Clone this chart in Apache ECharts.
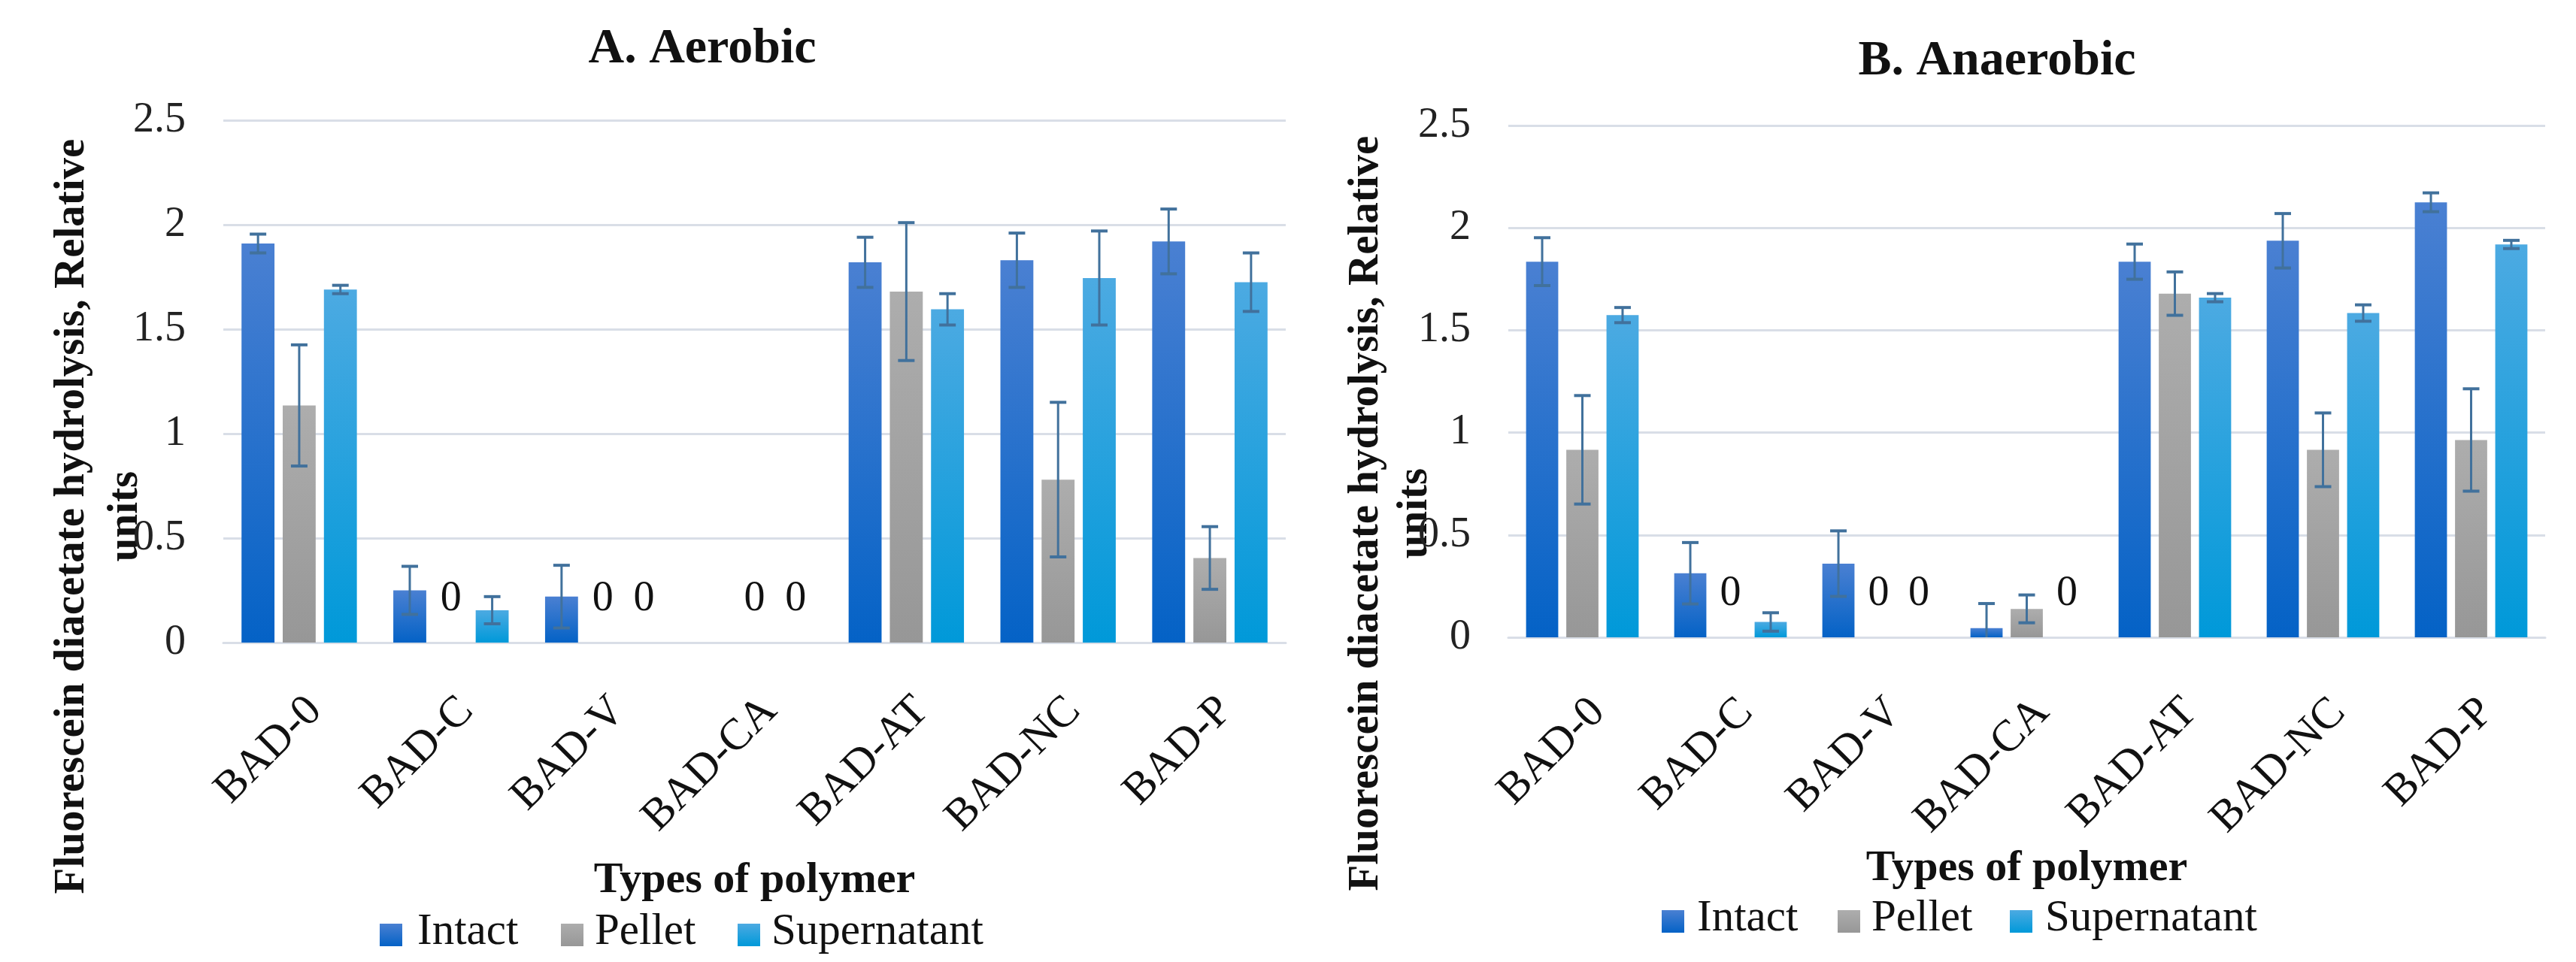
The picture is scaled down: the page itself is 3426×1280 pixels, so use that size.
<!DOCTYPE html>
<html>
<head>
<meta charset="utf-8">
<script src="https://cdn.jsdelivr.net/npm/echarts@6/dist/echarts.min.js"></script>
<style>
html,body{margin:0;padding:0;background:#fff;}
#chart{width:3426px;height:1280px;}
</style>
</head>
<body>
<div id="chart"></div>
<script>
// ---- data ----
const categories = ['BAD-0','BAD-C','BAD-V','BAD-CA','BAD-AT','BAD-NC','BAD-P'];
const seriesNames = ['Intact','Pellet','Supernatant'];
const yTicks = [0, 0.5, 1, 1.5, 2, 2.5];

// A. Aerobic
const aerIntact      = [1.91, 0.25, 0.22, null, 1.82, 1.83, 1.92];
const aerIntactErr   = [0.045, 0.115, 0.15, 0, 0.12, 0.13, 0.155];
const aerPellet      = [1.135, 0, 0, 0, 1.68, 0.78, 0.405];
const aerPelletErr   = [0.29, 0, 0, 0, 0.33, 0.37, 0.15];
const aerSuper       = [1.69, 0.155, 0, 0, 1.595, 1.745, 1.725];
const aerSuperErr    = [0.02, 0.065, 0, 0, 0.075, 0.225, 0.14];

// B. Anaerobic
const anaIntact      = [1.835, 0.313, 0.36, 0.045, 1.835, 1.937, 2.125];
const anaIntactErr   = [0.117, 0.15, 0.16, 0.12, 0.086, 0.133, 0.046];
const anaPellet      = [0.916, 0, 0, 0.139, 1.679, 0.916, 0.964];
const anaPelletErr   = [0.265, 0, 0, 0.068, 0.106, 0.18, 0.25];
const anaSuper       = [1.574, 0.075, 0, 0, 1.659, 1.584, 1.919];
const anaSuperErr    = [0.037, 0.045, 0, 0, 0.02, 0.04, 0.02];

// ---- styling ----
const FONT = "'Liberation Serif', 'DejaVu Serif', serif";
const gridColor = '#d9dee7';
const errColor = '#41719c';
function grad(top, bottom){
  return new echarts.graphic.LinearGradient(0,0,0,1,[{offset:0,color:top},{offset:1,color:bottom}]);
}
const colors = [grad('#4a80d2','#0462c6'), grad('#adadad','#979797'), grad('#4caae2','#0099d9')];

function barSeries(idx, name, vals, axis){
  return {
    type:'bar', name, xAxisIndex:axis, yAxisIndex:axis,
    barCategoryGap:'24%', barGap:'25%',
    itemStyle:{color:colors[idx]},
    data: vals.map(v => ({
      value: v,
      label: {show: v === 0, position:'top', distance:30, formatter:'0',
              fontFamily:FONT, fontSize:56, color:'#111'}
    })),
    z: 2
  };
}
function errSeries(idx, vals, errs, axis){
  return {
    type:'custom', xAxisIndex:axis, yAxisIndex:axis, clip:true, z:5,
    silent:true,
    data: vals.map((v,i) => [i, v == null ? 0 : v, errs[i] || 0]),
    renderItem: function(params, api){
      const cat = api.value(0), v = api.value(1), e = api.value(2);
      if (!e) return null;
      const catW = api.size([1,0])[0];
      const w = catW * 0.76 / 3.5;
      const off = (idx - 1) * w * 1.25;
      const x = api.coord([cat, v])[0] + off;
      const yT = api.coord([cat, v + e])[1];
      const yB = api.coord([cat, v - e])[1];
      const c = 11;
      const st = {stroke: errColor, lineWidth: 3};
      return {type:'group', children:[
        {type:'line', shape:{x1:x,y1:yT,x2:x,y2:yB}, style:st},
        {type:'line', shape:{x1:x-c,y1:yT,x2:x+c,y2:yT}, style:{stroke:errColor,lineWidth:4}},
        {type:'line', shape:{x1:x-c,y1:yB,x2:x+c,y2:yB}, style:{stroke:errColor,lineWidth:4}}
      ]};
    }
  };
}
function xAx(gi, gap, margin){
  return {
    type:'category', gridIndex:gi, data:categories,
    axisLine:{show:true, lineStyle:{color:gridColor, width:3}},
    axisTick:{show:false},
    axisLabel:{rotate:45, align:'right', verticalAlign:'top', margin:margin,
               fontFamily:FONT, fontSize:59, color:'#111'},
    name:'Types of polymer', nameLocation:'middle', nameGap:gap,
    nameTextStyle:{fontFamily:FONT, fontSize:58, fontWeight:'bold', color:'#111'}
  };
}
function yAx(gi){
  return {
    type:'value', gridIndex:gi, min:yTicks[0], max:yTicks[yTicks.length-1], interval:0.5,
    axisLine:{show:false}, axisTick:{show:false},
    splitLine:{lineStyle:{color:gridColor, width:3}},
    axisLabel:{margin:50, fontFamily:FONT, fontSize:56, color:'#222'}
  };
}
function yName(xc1, xc2, yc){
  const common = {fontFamily:FONT, fontSize:57, fontWeight:'bold', fill:'#111', textAlign:'center', textVerticalAlign:'middle'};
  return [
    {type:'text', x:xc1, y:yc, rotation:Math.PI/2, style:Object.assign({text:'Fluorescein diacetate hydrolysis, Relative'}, common)},
    {type:'text', x:xc2, y:yc, rotation:Math.PI/2, style:Object.assign({text:'units'}, common)}
  ];
}
// one legend (icon only) per series; its label is drawn as serif text next to it
function legendIcon(name, left, cy){
  return {
    left, top: cy - 15, itemWidth:30, itemHeight:30, padding:0,
    icon:'rect', data:[name], formatter: function(){ return ''; },
    textStyle:{fontSize:1}
  };
}
function legendText(name, x, cy){
  return {type:'text', x, y:cy, style:{text:name, fontFamily:FONT, fontSize:59, fill:'#111', textAlign:'left', textVerticalAlign:'middle'}};
}
const legLeftIcons  = [505, 746, 981];
const legLeftTexts  = [555, 791, 1026];
const legRightIcons = [2210, 2444, 2673];
const legRightTexts = [2257, 2489, 2720];

const chart = echarts.init(document.getElementById('chart'));
chart.setOption({
  backgroundColor:'#fff',
  animation:false,
  textStyle:{fontFamily:FONT},
  grid:[
    {left:297, top:160, width:1413, height:695},
    {left:2006, top:167, width:1379, height:681}
  ],
  xAxis:[xAx(0, 288, 61), xAx(1, 278, 70)],
  yAxis:[yAx(0), yAx(1)],
  legend:[
    ...seriesNames.map((n,i) => legendIcon(n, legLeftIcons[i], 1244)),
    ...seriesNames.map((n,i) => legendIcon(n, legRightIcons[i], 1226))
  ],
  graphic:[
    {type:'text', x:934, y:66, style:{text:'A. Aerobic', fontFamily:FONT, fontSize:66, fontWeight:'bold', fill:'#111', textAlign:'center', textVerticalAlign:'middle'}},
    {type:'text', x:2656, y:82, style:{text:'B. Anaerobic', fontFamily:FONT, fontSize:66, fontWeight:'bold', fill:'#111', textAlign:'center', textVerticalAlign:'middle'}},
    ...yName(96, 167, 687),
    ...yName(1817, 1882, 683),
    ...seriesNames.map((n,i) => legendText(n, legLeftTexts[i], 1240)),
    ...seriesNames.map((n,i) => legendText(n, legRightTexts[i], 1222))
  ],
  series:[
    barSeries(0, seriesNames[0], aerIntact, 0),
    barSeries(1, seriesNames[1], aerPellet, 0),
    barSeries(2, seriesNames[2], aerSuper, 0),
    errSeries(0, aerIntact, aerIntactErr, 0),
    errSeries(1, aerPellet, aerPelletErr, 0),
    errSeries(2, aerSuper, aerSuperErr, 0),
    barSeries(0, seriesNames[0], anaIntact, 1),
    barSeries(1, seriesNames[1], anaPellet, 1),
    barSeries(2, seriesNames[2], anaSuper, 1),
    errSeries(0, anaIntact, anaIntactErr, 1),
    errSeries(1, anaPellet, anaPelletErr, 1),
    errSeries(2, anaSuper, anaSuperErr, 1)
  ]
});
</script>
</body>
</html>
